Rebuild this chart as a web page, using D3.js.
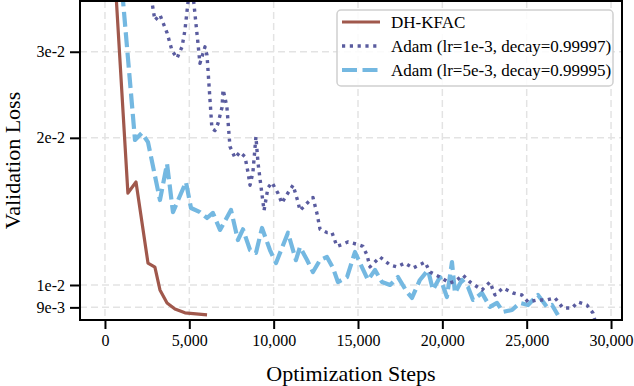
<!DOCTYPE html>
<html>
<head>
<meta charset="utf-8">
<script src="https://cdn.jsdelivr.net/npm/d3@7"></script>
<style>
  body { margin: 0; background: #fff; }
  svg text { font-family: "Liberation Serif", "DejaVu Serif", serif; fill: #000; }
</style>
</head>
<body>
<div id="chart"></div>
<script>
const kfacSteps = [470, 1360, 1840, 2550, 2960, 3260, 3680, 4150, 4740, 6050];
const kfacLoss = [0.0503, 0.01542, 0.01624, 0.01109, 0.01088, 0.00977, 0.00919, 0.00893, 0.00877, 0.00869];

const adam1Steps = [2670, 2960, 3260, 3680, 3970, 4270, 4570, 4740, 5100, 5510, 5630, 5930, 6050, 6340, 6520, 6700, 6940, 7000, 7110, 7230, 7410, 7710, 8000, 8300, 8480, 8600, 8770, 8950, 9070, 9310, 9430, 9660, 9900, 10260, 10490, 10670, 11150, 11440, 11560, 11980, 12330, 12570, 12750, 13160, 13460, 13750, 14050, 14410, 15000, 15290, 15530, 15710, 16300, 16900, 17310, 17780, 18260, 18970, 19270, 19860, 20450, 20870, 21220, 21640, 22350, 22820, 23120, 23590, 24190, 24720, 25080, 25610, 26200, 26680, 27150, 27680, 28040, 28570, 28930, 29050];
const adam1Loss = [0.0401, 0.0348, 0.0357, 0.0328, 0.0302, 0.0291, 0.0307, 0.0332, 0.0430, 0.0313, 0.0284, 0.0307, 0.0295, 0.0209, 0.0207, 0.0214, 0.0231, 0.0251, 0.0242, 0.0231, 0.0192, 0.0182, 0.0187, 0.0183, 0.0170, 0.0160, 0.0170, 0.0201, 0.0178, 0.0153, 0.0142, 0.0158, 0.0162, 0.0154, 0.0147, 0.0151, 0.0160, 0.0148, 0.0142, 0.0147, 0.0151, 0.0140, 0.0130, 0.0128, 0.0128, 0.0120, 0.0121, 0.01225, 0.0121, 0.0120, 0.01152, 0.01089, 0.01141, 0.01099, 0.01089, 0.01109, 0.01083, 0.01114, 0.01063, 0.01038, 0.01009, 0.01024, 0.01048, 0.01014, 0.00977, 0.01014, 0.00954, 0.00986, 0.00963, 0.00954, 0.00923, 0.00932, 0.00932, 0.00941, 0.00897, 0.00897, 0.00923, 0.00910, 0.00876, 0.00845];

const adam2Steps = [710, 1780, 2190, 2550, 3260, 3680, 4030, 4800, 5100, 5630, 6050, 6400, 6820, 7470, 7880, 8180, 8600, 8950, 9310, 9780, 10140, 10850, 11320, 11560, 11980, 12330, 12750, 13160, 13520, 13810, 14350, 14820, 15120, 15590, 16010, 16420, 16900, 17370, 17900, 18200, 18670, 19150, 19440, 19860, 20270, 20570, 20750, 21160, 21520, 21820, 22350, 22820, 23240, 23590, 24130, 24600, 25080, 25670, 26200, 26500, 26850];
const adam2Loss = [0.0532, 0.01980, 0.02046, 0.0196, 0.01492, 0.0177, 0.01410, 0.01624, 0.01437, 0.01410, 0.01371, 0.01404, 0.01296, 0.01424, 0.01236, 0.01300, 0.01179, 0.01163, 0.01308, 0.01179, 0.01109, 0.01279, 0.01124, 0.01196, 0.01125, 0.01063, 0.01125, 0.01141, 0.01083, 0.01014, 0.01038, 0.01168, 0.01109, 0.01024, 0.01073, 0.01014, 0.01000, 0.01038, 0.00968, 0.00941, 0.01024, 0.01073, 0.00977, 0.01038, 0.00945, 0.01114, 0.00963, 0.01024, 0.00991, 0.00932, 0.00963, 0.00902, 0.00919, 0.00881, 0.00889, 0.00919, 0.00910, 0.00954, 0.00902, 0.00910, 0.00868];

const seriesNames = ["DH-KFAC", "Adam (lr=1e-3, decay=0.99997)", "Adam (lr=5e-3, decay=0.99995)"];
const xTicks = [0, 5000, 10000, 15000, 20000, 25000, 30000];
const yTicks = [0.009, 0.01, 0.02, 0.03];
const yTickLabels = ["9e-3", "1e-2", "2e-2", "3e-2"];

document.addEventListener('DOMContentLoaded', function() {
    const width = 634, height = 386;
    const left = 80, right = 622, top = 1, bottom = 320;

    const svg = d3.select("#chart").append("svg")
        .attr("width", width)
        .attr("height", height);

    const x = d3.scaleLinear().domain([-1480, 30650]).range([left, right]);
    const y = d3.scaleLog().domain([0.00848, 0.0381]).range([bottom, top]);

    // grid
    const grid = svg.append("g").attr("stroke", "#e3e3e3").attr("stroke-width", 1.5).attr("stroke-dasharray", "7,4");
    grid.selectAll("line.gx").data(xTicks).enter().append("line")
        .attr("x1", d => x(d)).attr("x2", d => x(d))
        .attr("y1", top).attr("y2", bottom);
    grid.selectAll("line.gy").data(yTicks).enter().append("line")
        .attr("x1", left).attr("x2", right)
        .attr("y1", d => y(d)).attr("y2", d => y(d));

    svg.append("clipPath").attr("id", "clip")
        .append("rect").attr("x", left).attr("y", top).attr("width", right - left).attr("height", bottom - top);

    const line = d3.line().x(d => x(d[0])).y(d => y(d[1]));
    const series = [
        { steps: kfacSteps, loss: kfacLoss, color: "#a0584c", width: 3.2, dash: null },
        { steps: adam1Steps, loss: adam1Loss, color: "#5a5c9f", width: 3.4, dash: "3.2,4.6" },
        { steps: adam2Steps, loss: adam2Loss, color: "#74b8e1", width: 4.2, dash: "15,5.5" }
    ];

    const plot = svg.append("g").attr("clip-path", "url(#clip)");
    // draw back to front: light blue, dotted, brown on top
    [2, 1, 0].forEach(i => {
        const s = series[i];
        plot.append("path")
            .datum(s.steps.map((st, j) => [st, s.loss[j]]))
            .attr("fill", "none")
            .attr("stroke", s.color)
            .attr("stroke-width", s.width)
            .attr("stroke-dasharray", s.dash)
            .attr("stroke-linejoin", "round")
            .attr("d", line);
    });

    // frame
    svg.append("rect")
        .attr("x", left).attr("y", top)
        .attr("width", right - left).attr("height", bottom - top)
        .attr("fill", "none").attr("stroke", "#000").attr("stroke-width", 2);

    // x axis
    const xAxis = d3.axisBottom(x).tickValues(xTicks).tickSize(9).tickPadding(6)
        .tickFormat(d3.format(",d"));
    const gx = svg.append("g").attr("transform", `translate(0,${bottom})`).call(xAxis);
    gx.select(".domain").remove();
    gx.selectAll("line").attr("stroke-width", 2);
    gx.selectAll("text").style("font-size", "16px").style("font-family", "Liberation Serif");

    // y axis
    const yAxis = d3.axisLeft(y).tickValues(yTicks).tickSize(10).tickPadding(5)
        .tickFormat((d, i) => yTickLabels[i]);
    const gy = svg.append("g").attr("transform", `translate(${left},0)`).call(yAxis);
    gy.select(".domain").remove();
    gy.selectAll("line").attr("stroke-width", 2);
    gy.selectAll("text").style("font-size", "16px").style("font-family", "Liberation Serif");

    // axis titles
    svg.append("text")
        .attr("x", (left + right) / 2).attr("y", 381)
        .attr("text-anchor", "middle")
        .style("font-size", "22px")
        .text("Optimization Steps");
    svg.append("text")
        .attr("transform", `translate(20,${(top + bottom) / 2}) rotate(-90)`)
        .attr("text-anchor", "middle")
        .style("font-size", "22px")
        .text("Validation Loss");

    // legend
    const legend = svg.append("g");
    legend.append("rect")
        .attr("x", 337).attr("y", 10).attr("width", 276).attr("height", 76).attr("rx", 4)
        .attr("fill", "#fff").attr("fill-opacity", 0.85)
        .attr("stroke", "#d0d0d0").attr("stroke-width", 1.5);
    series.forEach((s, i) => {
        const ly = 22 + i * 24;
        legend.append("line")
            .attr("x1", 342).attr("x2", 380).attr("y1", ly).attr("y2", ly)
            .attr("stroke", s.color).attr("stroke-width", s.width)
            .attr("stroke-dasharray", s.dash);
        legend.append("text")
            .attr("x", 391).attr("y", ly + 6)
            .style("font-size", "17px")
            .text(seriesNames[i]);
    });
});
</script>
</body>
</html>
